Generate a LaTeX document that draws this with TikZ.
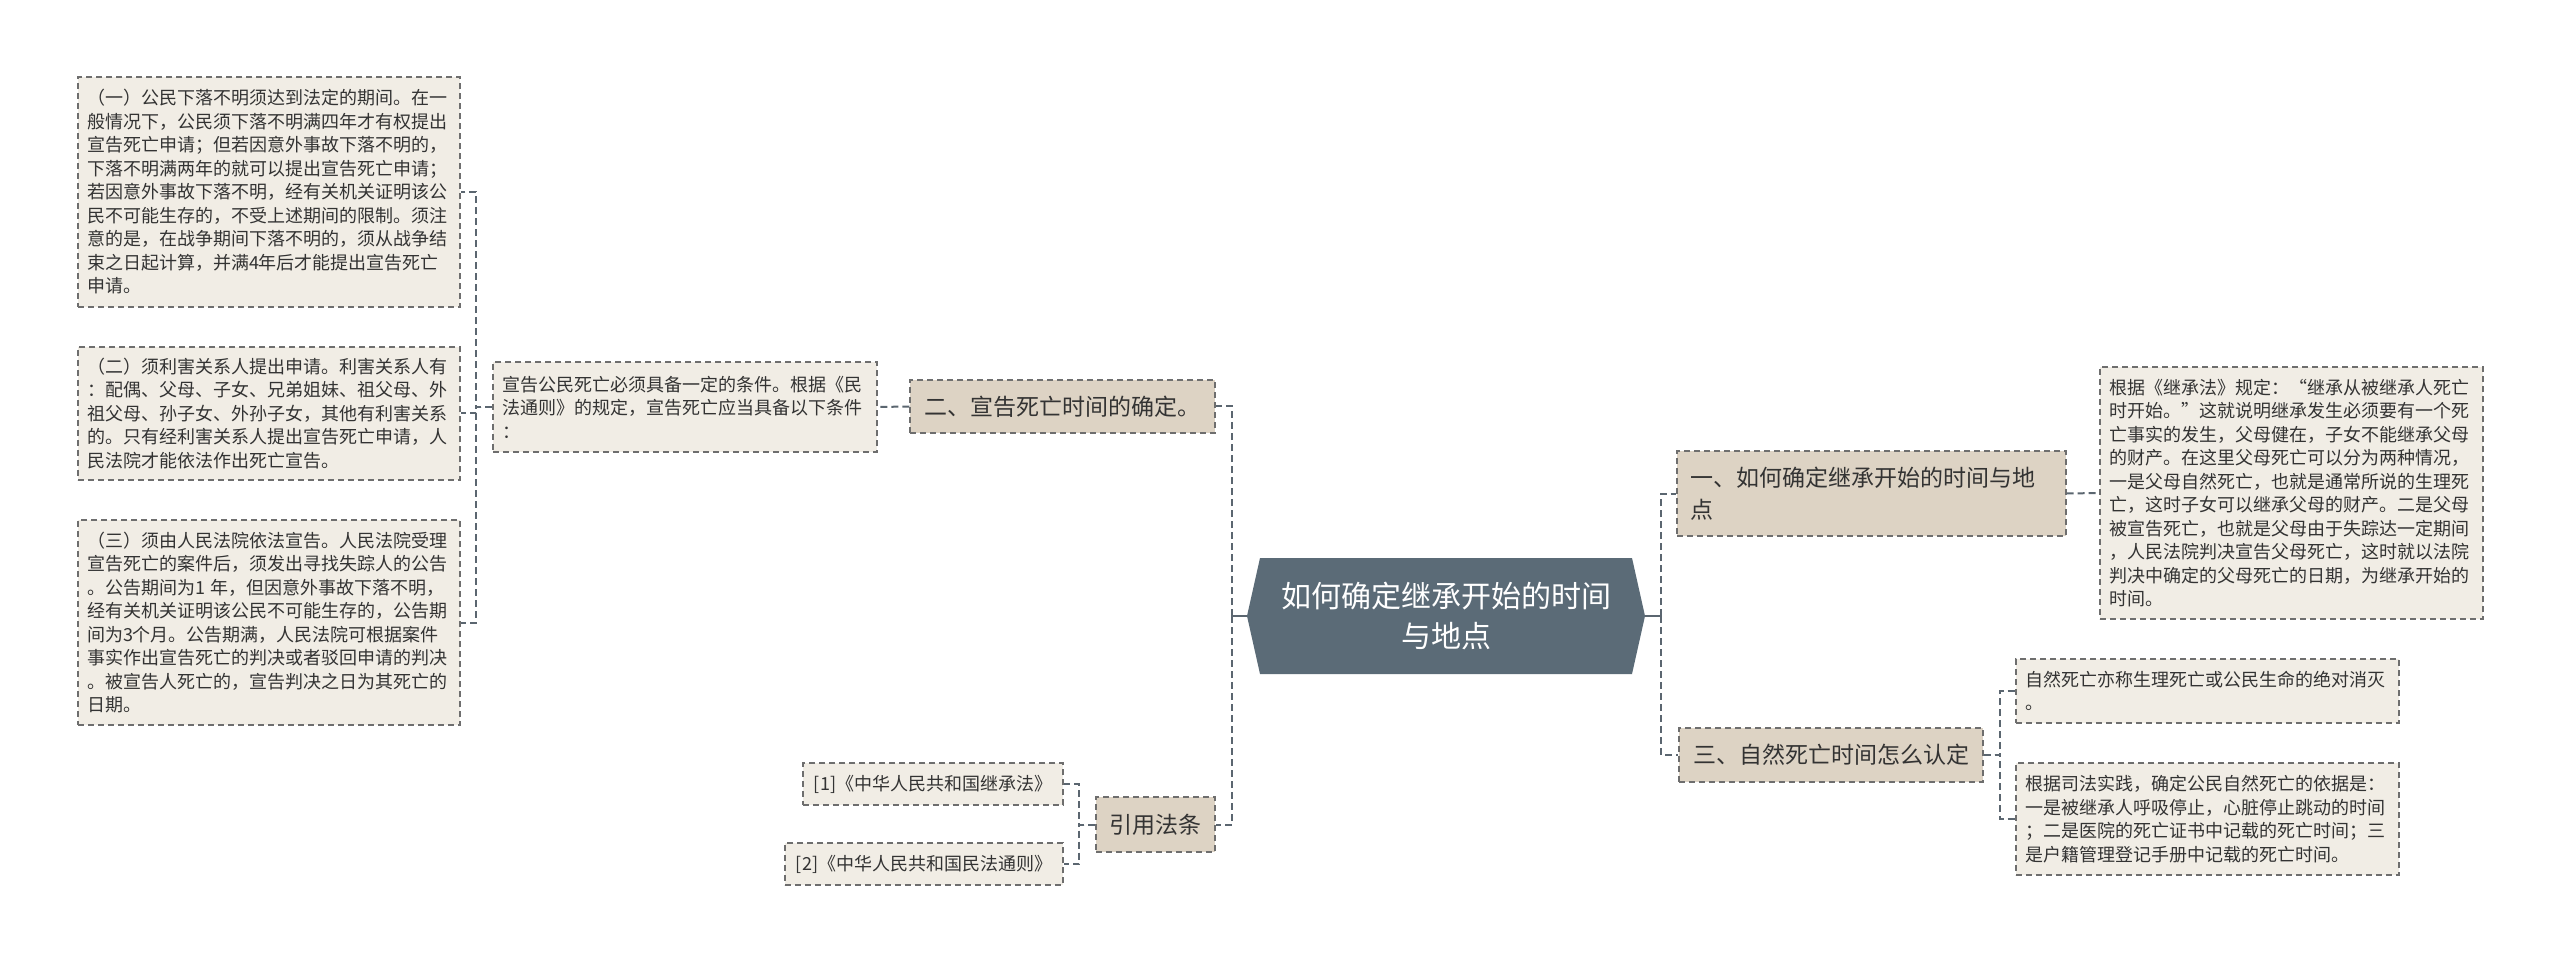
\documentclass[tikz,border=0pt]{standalone}
\usepackage{fontspec}
\setmainfont{Noto Sans CJK SC}
\definecolor{leaffill}{HTML}{F1EDE5}
\definecolor{midfill}{HTML}{DDD3C4}
\definecolor{centerfill}{HTML}{5B6B77}
\definecolor{linec}{HTML}{5B6670}
\definecolor{borderc}{HTML}{6E6E6E}
\definecolor{textc}{HTML}{333333}
\newcommand\leaffont{\fontsize{18}{23.5}\selectfont}
\newcommand\midfont{\fontsize{23}{32}\selectfont}
\newcommand\centerfont{\fontsize{30}{40}\selectfont}
\tikzset{
  leaf/.style={draw=borderc, fill=leaffill, line width=1.4pt, dash pattern=on 6pt off 4pt,
    font=\leaffont, text=textc, align=left, inner xsep=9pt, inner ysep=6pt},
  midbox/.style={draw=borderc, fill=midfill, line width=1.4pt, dash pattern=on 6pt off 4pt,
    font=\midfont, text=textc, align=left, inner xsep=13pt, inner ysep=6pt},
  conn/.style={draw=linec, line width=2pt, dash pattern=on 7pt off 4pt},
  solidconn/.style={draw=linec, line width=2.2pt},
}
\begin{document}
\begin{tikzpicture}[x=1pt,y=-1pt]
\useasboundingbox (0,0) rectangle (2560,965);
\fill[white] (0,0) rectangle (2560,965);

% centre
\fill[centerfill] (1260,558) -- (1632,558) -- (1645,616) -- (1632,674) -- (1260,674) -- (1247,616) -- cycle;
\node[font=\centerfont, text=white, align=center] (c) at (1446,616) {如何确定继承开始的时间\\与地点};
\coordinate (cW) at (1247,616);
\coordinate (cE) at (1645,616);
\coordinate (cLj) at (1232,616);
\coordinate (cRj) at (1661,616);

% left branch
\node[midbox, minimum width=305pt, minimum height=53pt, align=center] (L2) at (1062.5,406.5) {二、宣告死亡时间的确定。};
\node[leaf, minimum width=384pt, minimum height=90pt, text width=366pt] (bx) at (685,407) {宣告公民死亡必须具备一定的条件。根据《民\\法通则》的规定，宣告死亡应当具备以下条件\\：};
\node[leaf, minimum width=382pt, minimum height=230pt, text width=364pt] (b1) at (269,192) {（一）公民下落不明须达到法定的期间。在一\\般情况下，公民须下落不明满四年才有权提出\\宣告死亡申请；但若因意外事故下落不明的，\\下落不明满两年的就可以提出宣告死亡申请；\\若因意外事故下落不明，经有关机关证明该公\\民不可能生存的，不受上述期间的限制。须注\\意的是，在战争期间下落不明的，须从战争结\\束之日起计算，并满4年后才能提出宣告死亡\\申请。};
\node[leaf, minimum width=382pt, minimum height=133pt, text width=364pt] (b2) at (269,413.5) {（二）须利害关系人提出申请。利害关系人有\\：配偶、父母、子女、兄弟姐妹、祖父母、外\\祖父母、孙子女、外孙子女，其他有利害关系\\的。只有经利害关系人提出宣告死亡申请，人\\民法院才能依法作出死亡宣告。};
\node[leaf, minimum width=382pt, minimum height=205pt, text width=364pt] (b3) at (269,622.5) {（三）须由人民法院依法宣告。人民法院受理\\宣告死亡的案件后，须发出寻找失踪人的公告\\。公告期间为1~年，但因意外事故下落不明，\\经有关机关证明该公民不可能生存的，公告期\\间为3个月。公告期满，人民法院可根据案件\\事实作出宣告死亡的判决或者驳回申请的判决\\。被宣告人死亡的，宣告判决之日为其死亡的\\日期。};

\node[midbox, minimum width=119pt, minimum height=55pt, align=center] (Lref) at (1155.5,824.5) {引用法条};
\node[leaf, minimum width=260pt, minimum height=42pt, align=center] (r1) at (933,784) {[1]《中华人民共和国继承法》};
\node[leaf, minimum width=278pt, minimum height=42pt, align=center] (r2) at (924,864) {[2]《中华人民共和国民法通则》};

% right branch
\node[midbox, minimum width=389pt, minimum height=85pt, text width=363pt] (L1) at (1871.5,493.5) {一、如何确定继承开始的时间与地\\点};
\node[leaf, minimum width=383pt, minimum height=252pt, text width=365pt] (R1) at (2291.5,493) {根据《继承法》规定：“继承从被继承人死亡\\时开始。”这就说明继承发生必须要有一个死\\亡事实的发生，父母健在，子女不能继承父母\\的财产。在这里父母死亡可以分为两种情况，\\一是父母自然死亡，也就是通常所说的生理死\\亡，这时子女可以继承父母的财产。二是父母\\被宣告死亡，也就是父母由于失踪达一定期间\\，人民法院判决宣告父母死亡，这时就以法院\\判决中确定的父母死亡的日期，为继承开始的\\时间。};
\node[midbox, minimum width=304pt, minimum height=54pt, align=center] (L3) at (1831,755) {三、自然死亡时间怎么认定};
\node[leaf, minimum width=383pt, minimum height=64pt, text width=365pt] (n1) at (2207.5,691) {自然死亡亦称生理死亡或公民生命的绝对消灭\\。};
\node[leaf, minimum width=383pt, minimum height=112pt, text width=365pt] (n2) at (2207.5,819) {根据司法实践，确定公民自然死亡的依据是：\\一是被继承人呼吸停止，心脏停止跳动的时间\\；二是医院的死亡证书中记载的死亡时间；三\\是户籍管理登记手册中记载的死亡时间。};

% connectors
\draw[solidconn] (cW) -- (cLj);
\draw[solidconn] (cE) -- (cRj);
\draw[conn] (cLj) |- (L2.east);
\draw[conn] (cLj) |- (Lref.east);
\draw[conn] (cRj) |- (L1.west);
\draw[conn] (cRj) |- (L3.west);
\draw[conn] (L2.west) -- (bx.east);
\draw[conn] (bx.west) -- ++(-16,0) |- (b1.east);
\draw[conn] (bx.west) -- ++(-16,0) |- (b2.east);
\draw[conn] (bx.west) -- ++(-16,0) |- (b3.east);
\draw[conn] (Lref.west) -- ++(-16,0) |- (r1.east);
\draw[conn] (Lref.west) -- ++(-16,0) |- (r2.east);
\draw[conn] (L1.east) -- (R1.west);
\draw[conn] (L3.east) -- ++(16,0) |- (n1.west);
\draw[conn] (L3.east) -- ++(16,0) |- (n2.west);
\end{tikzpicture}
\end{document}
